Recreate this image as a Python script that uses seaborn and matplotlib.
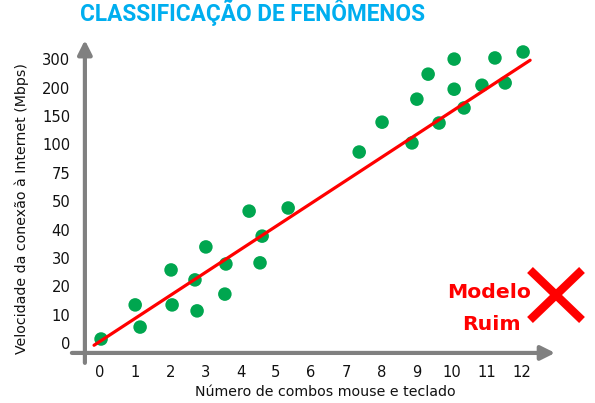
import matplotlib
matplotlib.use("Agg")
import numpy as np
import pandas as pd
import seaborn as sns
import matplotlib.pyplot as plt
from matplotlib.lines import Line2D

# values (y is the position on the evenly spaced y ticks)
combos = [0.03, 1.0, 1.14, 2.02, 2.05, 2.7, 2.76, 3.01, 3.55, 3.58, 4.24, 4.61, 4.55, 5.35,
          7.37, 8.02, 8.87, 9.01, 9.33, 9.64, 10.07, 10.07, 10.35, 10.86, 11.23, 11.52, 12.03]
speed = [0.15, 1.35, 0.57, 2.58, 1.35, 2.23, 1.14, 3.39, 1.73, 2.79, 4.65, 3.77, 2.83, 4.76,
         6.73, 7.78, 7.05, 8.59, 9.47, 7.75, 8.94, 10.0, 8.28, 9.08, 10.04, 9.16, 10.25]

# red model line
model_x = [-0.17, 12.23]
model_y = [-0.07, 9.96]

x_ticks = list(range(13))
y_tick_labels = ["0", "10", "20", "30", "40", "50", "75", "100", "150", "200", "300"]

df = pd.DataFrame({"combos": combos, "speed": speed})

sns.set_style("white")
plt.rcParams["font.family"] = ["DejaVu Sans"]

fig = plt.figure(figsize=(5.95, 4.03), dpi=100)
ax = fig.add_axes([0.1149, 0.0918, 0.8334, 0.818])

sns.scatterplot(data=df, x="combos", y="speed", s=95, color="#00A64F",
                edgecolor="none", ax=ax, zorder=3)
sns.lineplot(x=model_x, y=model_y, color="#FF0000", lw=2.3, ax=ax, zorder=4)

ax.set_xlim(-0.9, 13.2)
ax.set_ylim(-0.8, 10.8)

# axes drawn as gray arrows
for s in ax.spines.values():
    s.set_visible(False)
ax.spines["bottom"].set_position(("data", -0.34))
ax.spines["left"].set_position(("data", -0.43))
arrow = dict(arrowstyle="-|>,head_length=0.6,head_width=0.3", lw=3, color="#808080",
             shrinkA=0, shrinkB=0, mutation_scale=14)
ax.annotate("", xy=(12.94, -0.34), xytext=(-0.8, -0.34), arrowprops=arrow, zorder=0.4)
ax.annotate("", xy=(-0.43, 10.67), xytext=(-0.43, -0.69), arrowprops=arrow, zorder=0.4)

ax.set_xticks(x_ticks)
ax.set_yticks(range(len(y_tick_labels)))
ax.set_yticklabels(y_tick_labels)
ax.tick_params(axis="both", direction="inout", length=9, width=1.5, color="#a8a8a8",
               labelsize=10.6, labelcolor="#111111")
ax.tick_params(axis="x", pad=4)
ax.tick_params(axis="y", pad=6)

ax.set_xlabel("Número de combos mouse e teclado", fontsize=10.2, color="#111111")
ax.set_ylabel("Velocidade da conexão à Internet (Mbps)", fontsize=10.2, color="#111111")
ax.xaxis.set_label_coords(0.519, -0.079)
ax.yaxis.set_label_coords(-0.0934, 0.4777)
ax.xaxis.label.set_va("center")
ax.yaxis.label.set_va("center")

fig.text(253 / 595, 1 - 21 / 403, "CLASSIFICAÇÃO DE FENÔMENOS", ha="center", va="baseline",
         fontsize=16.3, fontweight="bold", color="#00AEEF", family=["Roboto", "DejaVu Sans"])

fig.text(489 / 595, 1 - 293 / 403, "Modelo", ha="center", va="center", fontsize=14.7,
         fontweight="bold", color="#FF0000")
fig.text(491 / 595, 1 - 325 / 403, "Ruim", ha="center", va="center", fontsize=14.7,
         fontweight="bold", color="#FF0000")

# big red cross
for (x0, y0), (x1, y1) in [((530, 270), (582, 320)), ((530, 320), (582, 270))]:
    fig.add_artist(Line2D([x0 / 595, x1 / 595], [1 - y0 / 403, 1 - y1 / 403],
                          transform=fig.transFigure, color="#FF0000", lw=6,
                          solid_capstyle="butt"))

fig.savefig("out.png", dpi=100)
